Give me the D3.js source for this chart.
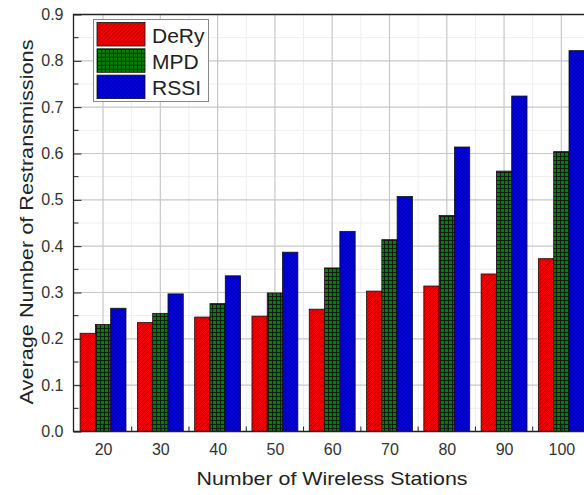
<!DOCTYPE html>
<html>
<head>
<meta charset="utf-8">
<script src="https://cdn.jsdelivr.net/npm/d3@7"></script>
<style>
  body { margin: 0; background: #fff; }
  svg { display: block; font-family: "Liberation Sans", Arial, sans-serif; }
</style>
</head>
<body>
<svg width="584" height="495"></svg>
<script>
const stations = [20, 30, 40, 50, 60, 70, 80, 90, 100];
const seriesNames = ["DeRy", "MPD", "RSSI"];
const dery = [0.212, 0.235, 0.247, 0.249, 0.264, 0.303, 0.314, 0.340, 0.373];
const mpd  = [0.231, 0.255, 0.276, 0.299, 0.353, 0.414, 0.466, 0.562, 0.604];
const rssi = [0.266, 0.297, 0.336, 0.387, 0.432, 0.507, 0.614, 0.724, 0.822];
const yTicks = [0.0, 0.1, 0.2, 0.3, 0.4, 0.5, 0.6, 0.7, 0.8, 0.9];

const svg = d3.select("svg");
const plotLeft = 73.5, plotTop = 14.5, plotBottom = 431.5;

const x = d3.scaleLinear().domain([15, 105]).range([74.4, 590]);
const y = d3.scaleLinear().domain([0, 0.9]).range([plotBottom, plotTop]);
const barW = 15.3;

// patterns
const defs = svg.append("defs");
const pRed = defs.append("pattern").attr("id", "pRed").attr("patternUnits", "userSpaceOnUse")
  .attr("width", 4).attr("height", 4);
pRed.append("rect").attr("width", 4).attr("height", 4).attr("fill", "#ee0000");
pRed.append("path").attr("d", "M0,4 L4,0 M-1,1 L1,-1 M3,5 L5,3")
  .attr("stroke", "#b30000").attr("stroke-width", 0.9);

const pGreen = defs.append("pattern").attr("id", "pGreen").attr("patternUnits", "userSpaceOnUse")
  .attr("width", 4).attr("height", 4);
pGreen.append("rect").attr("width", 4).attr("height", 4).attr("fill", "#008000");
pGreen.append("path").attr("d", "M0,0.5 H4 M0.5,0 V4")
  .attr("stroke", "#0a1a0a").attr("stroke-width", 0.9);

const pBlue = defs.append("pattern").attr("id", "pBlue").attr("patternUnits", "userSpaceOnUse")
  .attr("width", 4).attr("height", 4);
pBlue.append("rect").attr("width", 4).attr("height", 4).attr("fill", "#0000e6");
pBlue.append("path").attr("d", "M0,4 L4,0 M0,0 L4,4")
  .attr("stroke", "#0000a0").attr("stroke-width", 0.7);

const fills = ["url(#pRed)", "url(#pGreen)", "url(#pBlue)"];

// grid
const minorX = stations.map(s => s + 5);
const minorY = d3.range(0.05, 0.9, 0.1);
const grid = svg.append("g");
grid.selectAll("line.mx").data(minorX).join("line")
  .attr("x1", d => x(d)).attr("x2", d => x(d)).attr("y1", plotTop).attr("y2", plotBottom)
  .attr("stroke", "#eeeeee").attr("stroke-width", 1);
grid.selectAll("line.my").data(minorY).join("line")
  .attr("x1", plotLeft).attr("x2", 584).attr("y1", d => y(d)).attr("y2", d => y(d))
  .attr("stroke", "#eeeeee").attr("stroke-width", 1);
grid.selectAll("line.gx").data(stations).join("line")
  .attr("x1", d => x(d)).attr("x2", d => x(d)).attr("y1", plotTop).attr("y2", plotBottom)
  .attr("stroke", "#c8c8c8").attr("stroke-width", 1.2);
grid.selectAll("line.gy").data(yTicks.slice(1, -1)).join("line")
  .attr("x1", plotLeft).attr("x2", 584).attr("y1", d => y(d)).attr("y2", d => y(d))
  .attr("stroke", "#c8c8c8").attr("stroke-width", 1.2);

// bars
const series = [dery, mpd, rssi];
series.forEach((vals, si) => {
  svg.append("g").selectAll("rect").data(vals).join("rect")
    .attr("x", (d, i) => x(stations[i]) + (si - 1.5) * barW)
    .attr("width", barW)
    .attr("y", d => y(d))
    .attr("height", d => plotBottom - y(d))
    .attr("fill", fills[si])
    .attr("stroke", "#111")
    .attr("stroke-width", 0.8);
});

// axes (ticks inward)
const yAxis = svg.append("g").attr("transform", `translate(${plotLeft},0)`)
  .call(d3.axisLeft(y).tickValues(yTicks).tickSize(-8).tickPadding(10).tickFormat(d3.format(".1f")));
yAxis.append("g").selectAll("line").data(minorY).join("line")
  .attr("x1", 0).attr("x2", 5).attr("y1", d => y(d)).attr("y2", d => y(d));

const xAxis = svg.append("g").attr("transform", `translate(0,${plotBottom})`)
  .call(d3.axisBottom(x).tickValues(stations).tickSize(-8).tickPadding(12).tickFormat(d3.format("d")));
xAxis.append("g").selectAll("line").data(minorX).join("line")
  .attr("x1", d => x(d)).attr("x2", d => x(d)).attr("y1", 0).attr("y2", -5);

[yAxis, xAxis].forEach(a => {
  a.select(".domain").remove();
  a.selectAll("text").attr("font-size", 16).attr("fill", "#333").attr("font-family", "Liberation Sans, Arial, sans-serif");
  a.selectAll("line").attr("stroke", "#222");
});

// frame
svg.append("path")
  .attr("d", `M${584},${plotTop} H${plotLeft} V${plotBottom} H584`)
  .attr("fill", "none").attr("stroke", "#222").attr("stroke-width", 1.3);

// titles
svg.append("text")
  .attr("x", 332).attr("y", 485)
  .attr("text-anchor", "middle")
  .attr("font-size", 19).attr("fill", "#222")
  .attr("textLength", 271).attr("lengthAdjust", "spacingAndGlyphs")
  .text("Number of Wireless Stations");

svg.append("text")
  .attr("transform", "translate(33,222) rotate(-90)")
  .attr("text-anchor", "middle")
  .attr("font-size", 19).attr("fill", "#222")
  .attr("textLength", 365).attr("lengthAdjust", "spacingAndGlyphs")
  .text("Average Number of Restransmissions");

// legend
const lg = svg.append("g");
lg.append("rect").attr("x", 93.5).attr("y", 19.5).attr("width", 115).attr("height", 82)
  .attr("fill", "#fff").attr("stroke", "#888").attr("stroke-width", 1);
const legRows = lg.selectAll("g").data(seriesNames).join("g")
  .attr("transform", (d, i) => `translate(97,${22.5 + i * 26.3})`);
legRows.append("rect").attr("width", 48).attr("height", 23.5)
  .attr("fill", (d, i) => fills[i]).attr("stroke", "#111").attr("stroke-width", 0.8);
legRows.append("text").attr("x", 55).attr("y", 20).attr("font-size", 21).attr("fill", "#222")
  .text(d => d);
</script>
</body>
</html>
